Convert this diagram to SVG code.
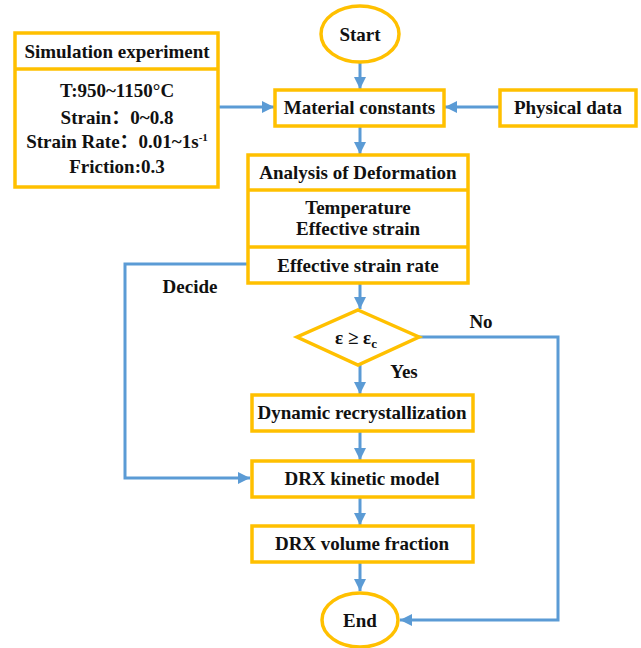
<svg xmlns="http://www.w3.org/2000/svg" width="641" height="648" viewBox="0 0 641 648">
<style>
.box{fill:#fff;stroke:#FFC000;stroke-width:3.5}
.ln{fill:none;stroke:#5B9BD5;stroke-width:3}
text{font-family:"Liberation Serif","DejaVu Serif",serif;font-weight:bold;font-size:19px;fill:#111;text-anchor:middle}
.cjk{font-family:"Noto Sans CJK SC",sans-serif}
</style>
<defs>
<marker id="ah" viewBox="0 0 10 10" refX="10" refY="5" markerWidth="4" markerHeight="4" orient="auto" markerUnits="strokeWidth">
<path d="M0,0 L10,5 L0,10 z" fill="#5B9BD5"/>
</marker>
</defs>
<rect width="641" height="648" fill="#fff"/>
<g id="connectors">
<line class="ln" x1="360" y1="62" x2="360" y2="89" marker-end="url(#ah)"/>
<line class="ln" x1="219" y1="107" x2="274" y2="107" marker-end="url(#ah)"/>
<line class="ln" x1="500" y1="107" x2="445" y2="107" marker-end="url(#ah)"/>
<line class="ln" x1="360" y1="127" x2="360" y2="154" marker-end="url(#ah)"/>
<line class="ln" x1="360" y1="284" x2="360" y2="309" marker-end="url(#ah)"/>
<line class="ln" x1="360" y1="365" x2="360" y2="394" marker-end="url(#ah)"/>
<line class="ln" x1="360" y1="432" x2="360" y2="460" marker-end="url(#ah)"/>
<line class="ln" x1="360" y1="498" x2="360" y2="525" marker-end="url(#ah)"/>
<line class="ln" x1="360" y1="563" x2="360" y2="591" marker-end="url(#ah)"/>
<polyline class="ln" points="248,264 125,264 125,478 250,478" marker-end="url(#ah)"/>
<polyline class="ln" points="419,337 558,337 558,620 400,620" marker-end="url(#ah)"/>
<text x="190" y="293">Decide</text>
<text x="481" y="328">No</text>
<text x="404" y="378">Yes</text>
</g>
<g id="start">
<ellipse class="box" cx="360" cy="34" rx="39" ry="28"/>
<text x="360" y="41">Start</text>
</g>
<g id="simulation">
<rect class="box" x="15" y="33" width="203" height="154"/>
<line x1="15" y1="69" x2="218" y2="69" stroke="#FFC000" stroke-width="3.5"/>
<text x="117" y="58">Simulation experiment</text>
<text x="117" y="97">T:950~1150°C</text>
<text x="117" y="124">Strain<tspan class="cjk">：</tspan>0~0.8</text>
<text x="117" y="148">Strain Rate<tspan class="cjk">：</tspan>0.01~1s<tspan font-size="11" dy="-7">-1</tspan></text>
<text x="117" y="173">Friction:0.3</text>
</g>
<g id="material">
<rect class="box" x="275" y="90" width="169" height="36"/>
<text x="359.5" y="114">Material constants</text>
</g>
<g id="physical">
<rect class="box" x="500" y="90" width="136" height="36"/>
<text x="568" y="114">Physical data</text>
</g>
<g id="analysis">
<rect class="box" x="248" y="155" width="220" height="128"/>
<line x1="248" y1="190" x2="468" y2="190" stroke="#FFC000" stroke-width="3.5"/>
<line x1="248" y1="247" x2="468" y2="247" stroke="#FFC000" stroke-width="3.5"/>
<text x="358" y="179">Analysis of Deformation</text>
<text x="358" y="214">Temperature</text>
<text x="358" y="235">Effective strain</text>
<text x="358" y="272">Effective strain rate</text>
</g>
<g id="decision">
<polygon class="box" points="358,310 419,337 358,365 297,337"/>
<text x="356" y="344" font-size="21">ε ≥ ε<tspan font-size="13" dy="4">c</tspan></text>
</g>
<g id="drx">
<rect class="box" x="252" y="395" width="221" height="36"/>
<text x="362" y="419">Dynamic recrystallization</text>
</g>
<g id="kinetic">
<rect class="box" x="252" y="461" width="221" height="36"/>
<text x="362" y="485">DRX kinetic model</text>
</g>
<g id="volume">
<rect class="box" x="252" y="526" width="221" height="36"/>
<text x="362" y="550">DRX volume fraction</text>
</g>
<g id="end">
<ellipse class="box" cx="360" cy="620" rx="38" ry="27"/>
<text x="360" y="627">End</text>
</g>
</svg>
